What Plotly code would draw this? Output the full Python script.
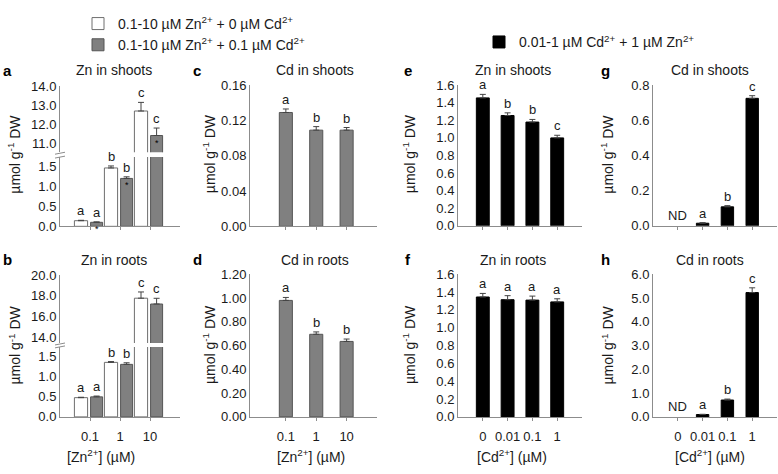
import plotly.graph_objects as go

FONT = "Liberation Sans, Arial, sans-serif"
W, H = 778, 474
TXT = "#1a1a1a"
AXC = "#8c8c8c"

# ---------------- data ----------------
zn_cats = ["0.1", "1", "10"]
cd_cats = ["0", "0.01", "0.1", "1"]

# a: Zn in shoots (Zn series)
a_ctrl = [0.14, 1.45, 12.70]
a_ctrl_err = [0.01, 0.05, 0.45]
a_ctrl_let = ["a", "b", "c"]
a_cd = [0.10, 1.19, 11.42]
a_cd_err = [0.01, 0.04, 0.39]
a_cd_let = ["a", "b", "c"]
a_cd_star = [True, True, True]

# b: Zn in roots (Zn series)
b_ctrl = [0.48, 1.36, 17.76]
b_ctrl_err = [0.01, 0.02, 0.60]
b_ctrl_let = ["a", "b", "c"]
b_cd = [0.50, 1.31, 17.20]
b_cd_err = [0.02, 0.04, 0.55]
b_cd_let = ["a", "b", "c"]

# c, d: Cd in shoots / roots (Zn series + 0.1 uM Cd)
c_vals = [0.129, 0.109, 0.109]
c_err = [0.004, 0.004, 0.003]
c_let = ["a", "b", "b"]
d_vals = [0.98, 0.695, 0.635]
d_err = [0.025, 0.02, 0.02]
d_let = ["a", "b", "b"]

# e-h: Cd series + 1 uM Zn
e_vals = [1.455, 1.255, 1.18, 1.00]
e_err = [0.04, 0.03, 0.03, 0.03]
e_let = ["a", "b", "b", "c"]
f_vals = [1.345, 1.315, 1.31, 1.29]
f_err = [0.04, 0.045, 0.045, 0.035]
f_let = ["a", "a", "a", "a"]
g_vals = [None, 0.015, 0.108, 0.725]
g_err = [0, 0.003, 0.007, 0.015]
g_let = ["ND", "a", "b", "c"]
h_vals = [None, 0.10, 0.71, 5.23]
h_err = [0, 0.01, 0.04, 0.20]
h_let = ["ND", "a", "b", "c"]

legend_names = [
    "0.1-10 µM Zn<sup>2+</sup> + 0 µM Cd<sup>2+</sup>",
    "0.1-10 µM Zn<sup>2+</sup> + 0.1 µM Cd<sup>2+</sup>",
    "0.01-1 µM Cd<sup>2+</sup> + 1 µM Zn<sup>2+</sup>",
]
titles = {"a": "Zn in shoots", "b": "Zn in roots", "c": "Cd in shoots", "d": "Cd in roots",
          "e": "Zn in shoots", "f": "Zn in roots", "g": "Cd in shoots", "h": "Cd in roots"}
ytitle = "µmol g<sup>-1</sup> DW"
xt_zn = "[Zn<sup>2+</sup>] (µM)"
xt_cd = "[Cd<sup>2+</sup>] (µM)"

# ---------------- styles ----------------
WHITE = dict(color="#ffffff", line=dict(color="#6e6e6e", width=1))
GREY = dict(color="#808080", line=dict(color="#555555", width=1))
BLACK = dict(color="#000000", line=dict(color="#000000", width=1))


def xd(x0, x1):
    return [x0 / W, x1 / W]


def yd(top, bottom):
    return [1 - bottom / H, 1 - top / H]


fig = go.Figure()
layout = dict(width=W, height=H, margin=dict(l=0, r=0, t=0, b=0),
              paper_bgcolor="white", plot_bgcolor="white",
              font=dict(family=FONT, size=13, color=TXT),
              barmode="overlay", showlegend=True)
annotations = []
shapes = []


def yaxis_cfg(dom, rng, dtick, fmt, anchor):
    return dict(domain=yd(*dom), range=rng, dtick=dtick, tick0=0, tickformat=fmt,
                showline=True, linecolor=AXC, linewidth=1, showgrid=False, zeroline=False,
                ticks="", tickfont=dict(size=13, color=TXT), anchor=anchor, fixedrange=True)


def xaxis_cfg(dom, rng, cats, anchor, labels, visible=True, match=None):
    d = dict(domain=xd(*dom), range=rng, type="category", categoryorder="array",
             categoryarray=cats, showline=visible, linecolor=AXC, linewidth=1,
             showgrid=False, zeroline=False, ticks="outside" if visible else "",
             ticklen=3, tickcolor=AXC, showticklabels=labels and visible,
             ticklabelstandoff=4,
             tickfont=dict(size=13, color=TXT), anchor=anchor, fixedrange=True)
    if match:
        d["matches"] = match
    return d


def add_bars(cats, vals, errs, style, xa, ya, width, offset, name, legend, show):
    fig.add_trace(go.Bar(
        x=cats, y=vals, width=width, offset=offset, marker=style, name=name,
        legend=legend, showlegend=show, xaxis=xa, yaxis=ya,
        error_y=dict(type="data", array=errs, arrayminus=[0] * len(errs), symmetric=False,
                     color="#444444", thickness=1, width=3),
        hoverinfo="skip"))


def add_letters(vals, errs, lets, width, offset, xref, yref, yref_hi=None, hi_min=None):
    for i, (v, e, t) in enumerate(zip(vals, errs, lets)):
        top = (v or 0) + e
        yr = yref
        if yref_hi is not None and v is not None and v > hi_min:
            yr = yref_hi
        annotations.append(dict(x=i + offset + width / 2, y=top, xref=xref, yref=yr,
                                text=t, showarrow=False, yanchor="bottom", yshift=0,
                                font=dict(size=13, color=TXT)))


# ---- panel a / b (broken axes) ----
WW, WO = 0.44, -0.52
GW, GO = 0.40, 0.02
broken = [
    ("x", "y", "x2", "y2", (155, 226.5), (81.7, 150), [0, 1.72], [10.545, 14.0], 1,
     (a_ctrl, a_ctrl_err, a_ctrl_let), (a_cd, a_cd_err, a_cd_let), False, True),
    ("x3", "y3", "x4", "y4", (351, 423.3), (276.7, 347), [0, 1.746], [13.44, 20.0], 2,
     (b_ctrl, b_ctrl_err, b_ctrl_let), (b_cd, b_cd_err, b_cd_let), True, False),
]
for (xl, yl, xu, yu, ydl, ydu, rl, ru, dtu, ctrl, cd, labels, first) in broken:
    layout["xaxis" + xl[1:]] = xaxis_cfg((60, 180), [-1, 3], zn_cats, yl, labels)
    layout["yaxis" + yl[1:]] = yaxis_cfg(ydl, rl, 0.5, ".1f", xl)
    layout["xaxis" + xu[1:]] = xaxis_cfg((60, 180), [-1, 3], zn_cats, yu, False, visible=False, match=xl)
    layout["yaxis" + yu[1:]] = yaxis_cfg(ydu, ru, dtu, ".1f", xu)
    for (xa, ya) in ((xl, yl), (xu, yu)):
        show = first and xa == xl
        add_bars(zn_cats, ctrl[0], ctrl[1], WHITE, xa, ya, WW, WO, legend_names[0], "legend", show)
        add_bars(zn_cats, cd[0], cd[1], GREY, xa, ya, GW, GO, legend_names[1], "legend", show)
    add_letters(ctrl[0], ctrl[1], ctrl[2], WW, WO, xl, yl, yu, ru[0])
    add_letters(cd[0], cd[1], cd[2], GW, GO, xl, yl, yu, ru[0])
    # axis break marks
    for yy in (ydu[1] + 1, ydl[0]):
        shapes.append(dict(type="line", xref="paper", yref="paper",
                           x0=55 / W, x1=65 / W, y0=1 - (yy + 1) / H, y1=1 - (yy - 1) / H,
                           line=dict(color=AXC, width=1)))

# significance marks inside grey bars of panel a
for i, (v, s) in enumerate(zip(a_cd, a_cd_star)):
    if s:
        yr = "y2" if v > 10.545 else "y"
        annotations.append(dict(x=i + GO + GW / 2, y=v, xref="x", yref=yr, text="*",
                                showarrow=False, yanchor="top", yshift=0,
                                font=dict(size=9, color="#000000")))

# ---- single-series panels ----
singles = [
    ("x5", "y5", (250, 377), (80.7, 226.5), [-1.18, 3], zn_cats, [0, 0.16], 0.04, ".2f",
     c_vals, c_err, c_let, GREY, 0.43, False, None),
    ("x6", "y6", (250, 377), (276, 423.3), [-1.18, 3], zn_cats, [0, 1.2], 0.2, ".2f",
     d_vals, d_err, d_let, GREY, 0.43, True, None),
    ("x7", "y7", (458, 582), (80.7, 226), [-1, 4], cd_cats, [0, 1.6], 0.2, ".1f",
     e_vals, e_err, e_let, BLACK, 0.52, False, "legend2"),
    ("x8", "y8", (458, 582), (276, 423.3), [-1, 4], cd_cats, [0, 1.6], 0.2, ".1f",
     f_vals, f_err, f_let, BLACK, 0.52, True, None),
    ("x9", "y9", (653, 777), (80.7, 226), [-1, 4], cd_cats, [0, 0.8], 0.2, ".1f",
     g_vals, g_err, g_let, BLACK, 0.50, False, None),
    ("x10", "y10", (653, 777), (276, 423.3), [-1, 4], cd_cats, [0, 6.0], 1.0, ".1f",
     h_vals, h_err, h_let, BLACK, 0.50, True, None),
]
for (xa, ya, xdom, ydom, xr, cats, yr, dt, fmt, vals, errs, lets, style, w, labels, leg) in singles:
    layout["xaxis" + xa[1:]] = xaxis_cfg(xdom, xr, cats, ya, labels)
    layout["yaxis" + ya[1:]] = yaxis_cfg(ydom, yr, dt, fmt, xa)
    name = legend_names[2] if style is BLACK else legend_names[1]
    add_bars(cats, vals, errs, style, xa, ya, w, -w / 2, name,
             leg or "legend", leg is not None)
    for i, (v, e, t) in enumerate(zip(vals, errs, lets)):
        annotations.append(dict(x=i, y=(v or 0) + e, xref=xa, yref=ya, text=t,
                                showarrow=False, yanchor="bottom",
                                yshift=1 if v is None else 0,
                                font=dict(size=13, color=TXT)))

# ---- titles, panel letters, axis titles ----
top_y, bot_y = 65.5, 261
panel_pos = {"a": (7, 114, top_y), "b": (7, 114, bot_y), "c": (197, 315, top_y),
             "d": (197, 315, bot_y), "e": (408, 513, top_y), "f": (408, 513, bot_y),
             "g": (605, 710, top_y), "h": (605, 710, bot_y)}
for k, (lx, tx, ty) in panel_pos.items():
    annotations.append(dict(x=lx / W, y=1 - ty / H, xref="paper", yref="paper", text="<b>%s</b>" % k,
                            showarrow=False, xanchor="center", yanchor="middle",
                            font=dict(size=15, color="#000000")))
    annotations.append(dict(x=tx / W, y=1 - ty / H, xref="paper", yref="paper", text=titles[k],
                            showarrow=False, xanchor="center", yanchor="middle",
                            font=dict(size=14, color=TXT)))
for yx in (14.5, 209, 409, 607.5):
    for yy in (152, 349):
        annotations.append(dict(x=yx / W, y=1 - yy / H, xref="paper", yref="paper", text=ytitle,
                                textangle=-90, showarrow=False, xanchor="center", yanchor="middle",
                                font=dict(size=14, color=TXT)))
for xx, t in ((100.5, xt_zn), (311, xt_zn), (512, xt_cd), (710, xt_cd)):
    annotations.append(dict(x=xx / W, y=1 - 464 / H, xref="paper", yref="paper", text=t,
                            showarrow=False, xanchor="center", yanchor="middle",
                            font=dict(size=14, color=TXT)))

layout["annotations"] = annotations
layout["shapes"] = shapes
layout["legend"] = dict(x=78 / W, y=1 - 1 / H, xanchor="left", yanchor="top",
                        bgcolor="rgba(0,0,0,0)", font=dict(size=14, color=TXT),
                        tracegroupgap=0, itemclick=False, itemdoubleclick=False)
layout["legend2"] = dict(x=479 / W, y=1 - 20 / H, xanchor="left", yanchor="top",
                         bgcolor="rgba(0,0,0,0)", font=dict(size=14, color=TXT),
                         itemclick=False, itemdoubleclick=False)
fig.update_layout(**layout)
fig.write_html("out.html", config={"displayModeBar": False},
               post_script="document.body.style.margin='0px';")
